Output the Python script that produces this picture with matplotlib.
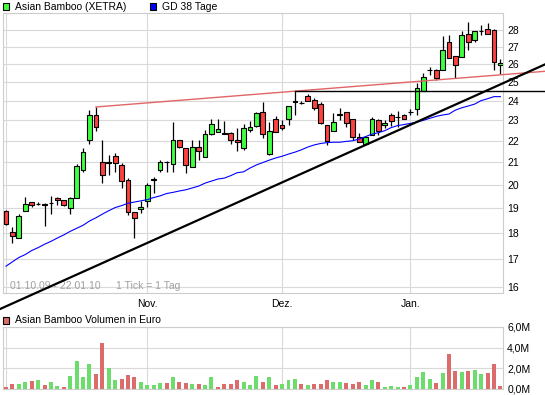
import matplotlib
matplotlib.use("Agg")
import matplotlib.pyplot as plt
from matplotlib.patches import Rectangle
from matplotlib.ticker import NullLocator, FixedLocator
import numpy as np

plt.rcParams['font.family'] = ['Liberation Sans', 'DejaVu Sans']

# ---------------- data (trading days 01.10.09 - 22.01.10) ----------------
opens = [18.88, 18.03, 17.80, 18.88, 19.25, 19.18, 19.16, 19.20, 19.41, 19.33,
         19.00, 19.41, 20.64, 22.03, 23.27, 21.00, 21.00, 21.28, 20.87, 20.19,
         18.84, 18.96, 19.29, 20.20, 20.64, 21.02, 20.91, 22.03, 21.65, 20.78,
         21.70, 21.23, 22.32, 22.42, 22.37, 22.37, 22.03, 21.65, 22.52, 22.71,
         23.42, 21.37, 23.06, 22.76, 23.06, 23.99, 23.91, 24.25, 24.04, 23.83,
         22.76, 22.47, 23.27, 23.42, 23.06, 22.18, 21.85, 22.27, 23.01, 22.76,
         23.27, 23.16, 23.27, 23.42, 23.58, 24.51, 25.67, 25.67, 25.64, 27.28,
         26.46, 26.40, 27.76, 27.40, 27.95, 28.06, 28.00, 25.94]
highs = [18.92, 18.23, 18.75, 19.46, 19.25, 19.25, 19.20, 19.50, 19.46, 19.33,
         19.46, 20.91, 21.65, 23.53, 23.68, 22.03, 21.32, 21.42, 20.96, 20.28,
         18.84, 19.29, 20.07, 20.33, 21.10, 21.05, 22.91, 22.03, 21.65, 22.03,
         22.03, 22.52, 23.06, 23.06, 22.96, 22.42, 22.62, 22.81, 22.96, 23.42,
         23.94, 22.91, 23.22, 23.01, 23.73, 24.51, 23.99, 24.35, 24.14, 23.94,
         22.76, 23.37, 23.63, 23.42, 23.06, 22.37, 22.18, 23.16, 23.06, 23.01,
         23.37, 23.47, 23.32, 23.58, 24.95, 25.50, 25.84, 25.72, 27.64, 27.70,
         26.46, 27.94, 28.49, 27.94, 28.30, 28.46, 28.06, 26.31]
lows = [18.31, 17.60, 17.80, 18.88, 19.04, 19.12, 18.27, 18.75, 19.12, 19.08,
        18.75, 19.41, 20.55, 21.85, 22.47, 20.07, 20.42, 20.55, 19.85, 18.71,
        17.80, 18.79, 19.04, 19.63, 20.55, 20.55, 20.55, 21.65, 20.51, 20.78,
        21.10, 21.23, 22.27, 22.42, 22.32, 21.85, 21.51, 21.56, 22.42, 22.66,
        22.13, 21.32, 22.40, 22.52, 22.76, 23.27, 23.83, 23.99, 23.52, 22.81,
        21.80, 22.47, 23.01, 22.66, 22.03, 21.94, 21.85, 22.27, 22.27, 22.62,
        22.71, 22.66, 23.06, 23.27, 23.27, 24.51, 25.38, 25.11, 25.64, 26.34,
        25.22, 26.40, 26.81, 27.28, 27.70, 27.76, 25.64, 25.44]
closes = [18.35, 17.87, 18.67, 19.16, 19.12, 19.16, 19.14, 19.22, 19.33, 19.12,
          19.41, 20.82, 21.46, 23.27, 22.66, 20.42, 20.95, 20.97, 20.15, 18.84,
          18.59, 19.04, 19.98, 20.24, 21.00, 20.99, 22.03, 21.70, 20.87, 21.70,
          21.51, 22.32, 22.81, 22.57, 22.35, 22.03, 21.94, 22.62, 22.66, 23.37,
          22.32, 22.45, 22.40, 22.62, 23.73, 23.96, 23.89, 23.99, 23.63, 22.86,
          21.99, 22.91, 23.30, 22.86, 22.18, 21.94, 22.18, 23.06, 22.47, 22.86,
          22.96, 23.18, 23.06, 23.40, 24.67, 25.27, 25.64, 25.22, 26.81, 26.34,
          25.97, 27.70, 27.28, 27.94, 27.97, 27.76, 26.14, 26.08]
ma38 = [16.74, 16.90, 17.06, 17.17, 17.32, 17.43, 17.56, 17.67, 17.80, 17.92,
        18.06, 18.18, 18.30, 18.47, 18.60, 18.75, 18.89, 19.02, 19.10, 19.20,
        19.25, 19.30, 19.35, 19.44, 19.51, 19.61, 19.66, 19.72, 19.77, 19.85,
        19.93, 20.06, 20.15, 20.24, 20.28, 20.39, 20.52, 20.56, 20.73, 20.87,
        20.98, 21.09, 21.19, 21.27, 21.37, 21.46, 21.57, 21.70, 21.80, 21.87,
        21.91, 21.93, 21.93, 21.97, 22.00, 22.08, 22.20, 22.32, 22.39, 22.49,
        22.64, 22.74, 22.79, 22.85, 22.91, 23.00, 23.10, 23.20, 23.27, 23.32,
        23.52, 23.64, 23.73, 23.83, 24.01, 24.11, 24.22, 24.22]
volume_m = [0.2, 0.5, 0.5, 0.7, 0.8, 0.9, 0.4, 0.7, 0.3, 0.2,
            1.3, 2.75, 1.2, 2.45, 1.5, 4.5, 2.0, 0.9, 1.0, 1.4,
            1.2, 0.7, 0.4, 0.4, 0.6, 0.6, 1.2, 0.7, 0.6, 0.5,
            0.5, 0.4, 1.2, 0.2, 0.5, 0.5, 0.9, 0.7, 0.4, 1.24,
            0.72, 1.14, 0.41, 0.52, 0.83, 0.93, 0.52, 0.41, 0.52, 0.52,
            0.83, 0.72, 0.72, 0.62, 0.52, 0.72, 0.41, 0.83, 0.72, 0.21,
            0.31, 0.21, 0.21, 0.41, 1.14, 1.66, 0.93, 0.62, 1.55, 3.41,
            1.76, 1.66, 1.76, 1.86, 1.45, 1.55, 2.38, 0.31]

month_ticks = [0, 22, 43, 63]
month_labels = ['', 'Nov.', 'Dez.', 'Jan.']
price_ticks = list(range(16, 29))
vol_ticks = [0, 2, 4, 6]
vol_labels = ['0,0M', '2,0M', '4,0M', '6,0M']

# trend lines (chart-tool drawings): resistance through two highs,
# horizontal at a high, support through two points
resist_idx = [14, 45]
horiz_idx = 45
support_pts = [(20, 17.39), (56, 21.80)]

# ---------------- layout ----------------
W, H = 545, 395
fig = plt.figure(figsize=(W / 100, H / 100), dpi=100)
fig.patch.set_facecolor('white')

def fx(px):
    return px / W

def fy(py):
    return 1 - py / H

ax = fig.add_axes([fx(3), fy(293), fx(500), 280 / H])
axv = fig.add_axes([fx(3), fy(389), fx(500), 62 / H])

grid_c = '#d9d9d9'
frame_c = '#cccccc'
up_c, dn_c = '#40ff40', '#ff4040'
vup_c, vdn_c = '#6cdc6c', '#dc6c6c'
FS = 7.5

n = len(closes)
x = np.arange(n)
o = np.array(opens); c = np.array(closes)
hi = np.array(highs); lo = np.array(lows)

for a in (ax, axv):
    a.set_xlim(-0.47, 77.41)
    for s in a.spines.values():
        s.set_color(frame_c)
        s.set_linewidth(0.8)
    a.tick_params(length=0, labelsize=FS)
    a.set_axisbelow(True)

# price panel
ax.set_yscale('log')
ax.set_ylim(15.79, 29.06)
ax.yaxis.set_major_locator(FixedLocator(price_ticks))
ax.yaxis.set_minor_locator(NullLocator())
ax.set_yticklabels([str(t) for t in price_ticks])
ax.yaxis.tick_right()
ax.tick_params(axis='y', pad=3)
ax.set_xticks(month_ticks)
ax.set_xticklabels(month_labels)
ax.tick_params(axis='x', pad=4)
ax.grid(True, color=grid_c, linewidth=0.8)

# candles
ax.vlines(x, lo, hi, color='black', linewidth=0.9, zorder=2)
body_lo = np.minimum(o, c)
body_h = np.maximum(np.abs(c - o), 0.01)
cols = [up_c if cc >= oo else dn_c for oo, cc in zip(o, c)]
ax.bar(x, body_h, bottom=body_lo, width=0.74, color=cols,
       edgecolor='black', linewidth=0.8, zorder=3)

# moving average
ax.plot(x, ma38, color='#0000ff', linewidth=0.8, zorder=4)

# figure-edge x positions in data coords
inv = ax.transData.inverted()
x_left = inv.transform(fig.transFigure.transform((0, 0)))[0]
x_right = inv.transform(fig.transFigure.transform((1, 0)))[0]

# resistance line (log-linear through two highs)
i1, i2 = resist_idx
l1, l2 = np.log(hi[i1]), np.log(hi[i2])
slope = (l2 - l1) / (i2 - i1)
ax.plot([i1, x_right], [hi[i1], np.exp(l1 + slope * (x_right - i1))],
        color='#e06666', linewidth=1.0, clip_on=False, zorder=5)

# horizontal line
ax.plot([horiz_idx, x_right], [hi[horiz_idx], hi[horiz_idx]],
        color='black', linewidth=1.0, clip_on=False, zorder=5)

# support line
(sa, pa), (sb, pb) = support_pts
sl = (np.log(pb) - np.log(pa)) / (sb - sa)
xs = np.array([x_left, x_right])
ax.plot(xs, np.exp(np.log(pa) + sl * (xs - sa)), color='black',
        linewidth=1.6, clip_on=False, zorder=5)

# footnote
ax.text(fx(10), fy(286), '01.10.09 - 22.01.10', transform=fig.transFigure,
        fontsize=FS, color='#a0a0a0', va='center', ha='left')
ax.text(fx(116), fy(286), '1 Tick = 1 Tag', transform=fig.transFigure,
        fontsize=FS, color='#a0a0a0', va='center', ha='left')

# volume panel
vcols = []
for i in range(n):
    if i == 0:
        vcols.append(vup_c if c[0] >= o[0] else vdn_c)
    else:
        vcols.append(vup_c if c[i] >= c[i - 1] else vdn_c)
axv.bar(x, volume_m, width=0.62, color=vcols, linewidth=0, zorder=3)
axv.set_ylim(0, 6)
axv.set_yticks(vol_ticks)
axv.set_yticklabels(vol_labels)
axv.yaxis.tick_right()
axv.tick_params(axis='y', pad=3)
axv.set_xticks(month_ticks)
axv.set_xticklabels([])
axv.grid(True, color=grid_c, linewidth=0.8)

# legends
def legend_box(px, py, color, label):
    fig.patches.append(Rectangle((fx(px), fy(py + 7)), fx(6), 7 / H,
                                 transform=fig.transFigure, facecolor=color,
                                 edgecolor='black', linewidth=0.8))
    fig.text(fx(px + 12), fy(py + 3.5), label, fontsize=FS, va='center',
             ha='left', color='black')

legend_box(3, 3, up_c, 'Asian Bamboo (XETRA)')
legend_box(150, 3, '#0000ff', 'GD 38 Tage')
legend_box(3, 316.5, vdn_c, 'Asian Bamboo Volumen in Euro')

fig.savefig('out.png', dpi=100, facecolor='white')
